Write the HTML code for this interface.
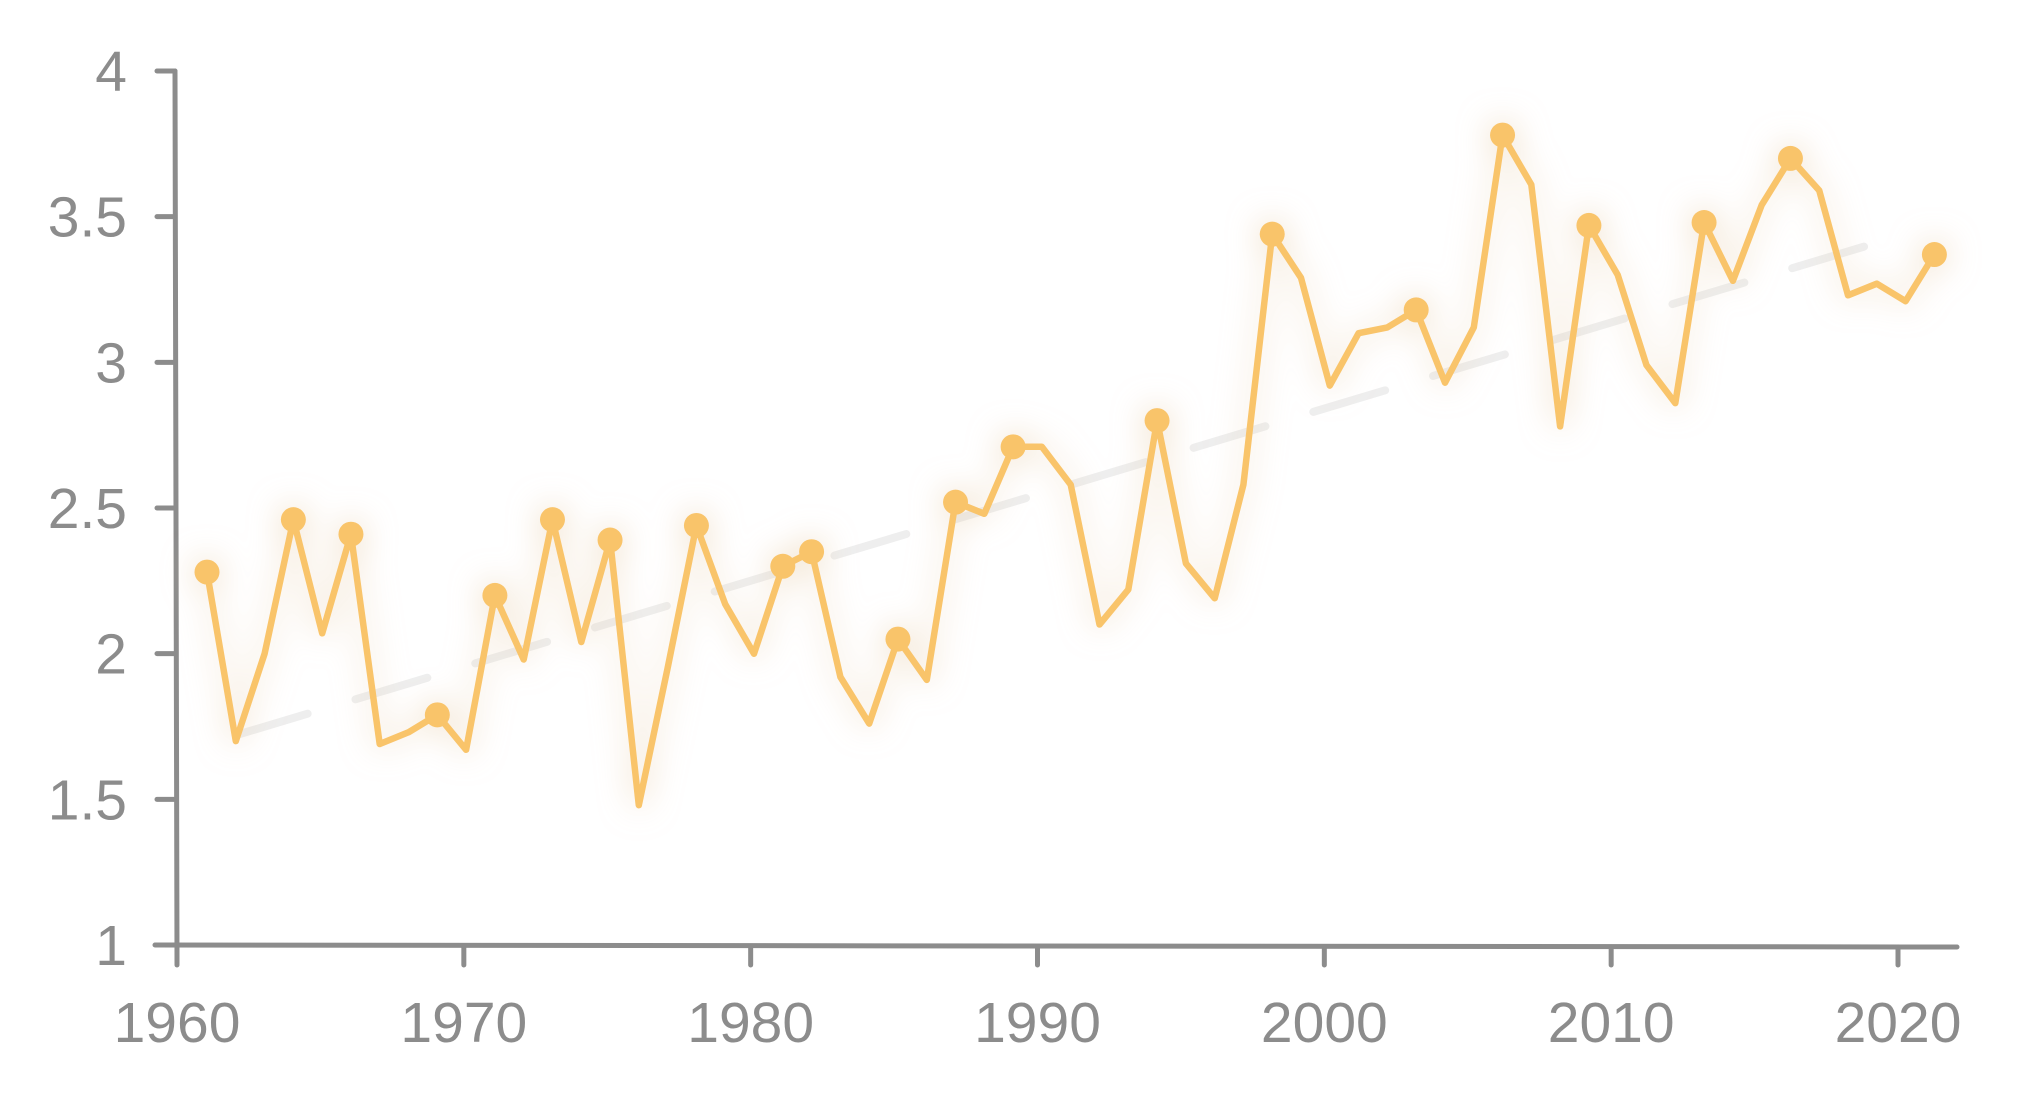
<!DOCTYPE html>
<html><head><meta charset="utf-8">
<style>
html,body{margin:0;padding:0;background:#fff;}
svg{display:block;}
text{font-family:"Liberation Sans",sans-serif;fill:#8c8c8c;}
</style></head>
<body>
<svg id="chart" width="2029" height="1093" viewBox="0 0 2029 1093" xmlns="http://www.w3.org/2000/svg">
<defs>
<filter id="glow" x="-10%" y="-20%" width="120%" height="140%">
<feGaussianBlur in="SourceAlpha" stdDeviation="16" result="b"/>
<feFlood flood-color="#e6c9a2" flood-opacity="0.7"/>
<feComposite in2="b" operator="in" result="s"/>
<feMerge><feMergeNode in="s"/><feMergeNode in="SourceGraphic"/></feMerge>
</filter>
</defs>
<g id="axes"></g>
<g id="trend"></g>
<g id="series" filter="url(#glow)"></g>
</svg>
<script>
const years = [];
for (let y = 1961; y <= 2021; y++) years.push(y);
const values = [2.28,1.70,2.00,2.46,2.07,2.41,1.69,1.73,1.79,1.67,2.20,1.98,2.46,2.04,2.39,1.48,1.95,2.44,2.17,2.00,2.30,2.35,1.92,1.76,2.05,1.91,2.52,2.48,2.71,2.71,2.58,2.10,2.22,2.80,2.31,2.19,2.58,3.44,3.29,2.92,3.10,3.12,3.18,2.93,3.12,3.78,3.61,2.78,3.47,3.30,2.99,2.86,3.48,3.28,3.54,3.70,3.59,3.23,3.27,3.21,3.37];
const markerYears = [1961,1964,1966,1969,1971,1973,1975,1978,1981,1982,1985,1987,1989,1994,1998,2003,2006,2009,2013,2016,2021];
const trendYears = [1962,2020];
const trendValues = [1.72,3.44];
const yTicks = [1,1.5,2,2.5,3,3.5,4];
const yTickLabels = ["1","1.5","2","2.5","3","3.5","4"];
const xTicks = [1960,1970,1980,1990,2000,2010,2020];

const NS = "http://www.w3.org/2000/svg";
const xS = y => 177 + (y - 1960) * (1898 - 177) / 60;
const xD = y => 207 + (y - 1961) * 28.79;
const yS = v => 945 - (v - 1) * (945 - 71) / 3;
function mk(tag, attrs, parent){const e=document.createElementNS(NS,tag);for(const k in attrs)e.setAttribute(k,attrs[k]);parent.appendChild(e);return e;}

const axes = document.getElementById('axes');
let e;
e = mk('line',{x1:175,y1:71,x2:177,y2:963,stroke:'#8c8c8c','stroke-width':5,'stroke-linecap':'round'},axes);


e = mk('line',{x1:155,y1:945,x2:1957,y2:947,stroke:'#8c8c8c','stroke-width':5,'stroke-linecap':'round'},axes);


yTicks.forEach((v,i)=>{
  const t = mk('line',{x1:157,y1:yS(v),x2:175,y2:yS(v),stroke:'#8c8c8c','stroke-width':5,'stroke-linecap':'round'},axes);
  
  
  const l = mk('text',{x:127,y:yS(v)+20,'text-anchor':'end','font-size':57},axes);
  l.textContent = yTickLabels[i];
  
  
});
xTicks.forEach(v=>{
  const t = mk('line',{x1:xS(v),y1:947,x2:xS(v),y2:965,stroke:'#8c8c8c','stroke-width':5,'stroke-linecap':'round'},axes);
  
  
  const l = mk('text',{x:xS(v),y:1042,'text-anchor':'middle','font-size':57},axes);
  l.textContent = String(v);
  
  
});

const trend = document.getElementById('trend');
e = mk('line',{x1:xD(trendYears[0]),y1:yS(trendValues[0]),x2:xD(trendYears[1]),y2:yS(trendValues[1]),stroke:'#eeeeee','stroke-width':8,'stroke-dasharray':'75 50','stroke-linecap':'round'},trend);



const series = document.getElementById('series');
const pts = years.map((y,i)=>xD(y).toFixed(1)+','+yS(values[i]).toFixed(1)).join(' ');
e = mk('polyline',{points:pts,fill:'none',stroke:'#f9c46b','stroke-width':6.5,'stroke-linejoin':'round','stroke-linecap':'round'},series);


markerYears.forEach(y=>{
  const i = years.indexOf(y);
  const c = mk('circle',{cx:xD(y),cy:yS(values[i]),r:12.5,fill:'#f9c46b'},series);
  
  
});
</script>
</body></html>
